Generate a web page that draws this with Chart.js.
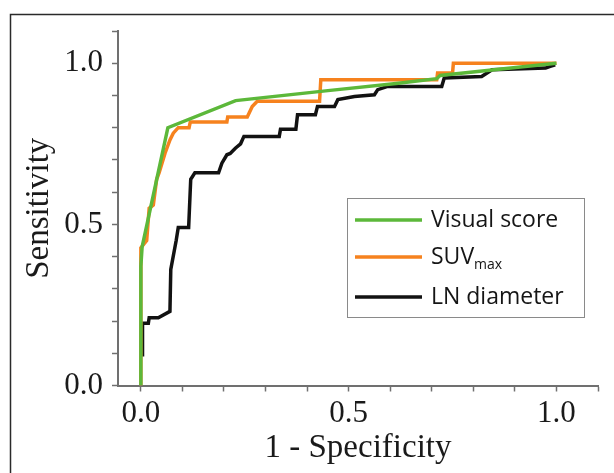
<!DOCTYPE html>
<html>
<head>
<meta charset="utf-8">
<script src="https://cdn.jsdelivr.net/npm/chart.js@4.4.1/dist/chart.umd.min.js"></script>
<style>
  html, body { margin: 0; padding: 0; background: #fff; }
  #wrap { width: 614px; height: 473px; }
</style>
</head>
<body>
<div id="wrap"><canvas id="roc" width="614" height="473"></canvas></div>
<script>
// ROC curves (x = 1 - specificity, y = sensitivity)
const visualFpr = [0, 0, 0.003, 0.065, 0.228, 0.45, 0.62, 0.712, 0.72, 0.85, 1.0];
const visualTpr = [0, 0.37, 0.43, 0.80, 0.884, 0.915, 0.938, 0.952, 0.962, 0.98, 1.0];

const suvFpr = [0, 0, 0.008, 0.014, 0.02, 0.03, 0.038, 0.044, 0.058, 0.07, 0.078, 0.09, 0.116, 0.119, 0.207, 0.209, 0.256, 0.268, 0.28, 0.43, 0.433, 0.712, 0.714, 0.75, 0.752, 1.0];
const suvTpr = [0, 0.427, 0.44, 0.45, 0.55, 0.56, 0.64, 0.66, 0.72, 0.762, 0.783, 0.80, 0.80, 0.818, 0.818, 0.833, 0.833, 0.866, 0.882, 0.882, 0.949, 0.949, 0.97, 0.97, 1.0, 1.0];

const lnFpr = [0.004, 0.004, 0.018, 0.02, 0.042, 0.07, 0.072, 0.085, 0.09, 0.115, 0.12, 0.13, 0.187, 0.195, 0.207, 0.215, 0.228, 0.24, 0.248, 0.333, 0.336, 0.373, 0.377, 0.42, 0.425, 0.466, 0.474, 0.514, 0.562, 0.57, 0.594, 0.724, 0.73, 0.82, 0.845, 0.974, 0.985, 0.997];
const lnTpr = [0.09, 0.193, 0.193, 0.21, 0.21, 0.23, 0.36, 0.45, 0.49, 0.49, 0.64, 0.66, 0.66, 0.69, 0.716, 0.72, 0.737, 0.75, 0.773, 0.773, 0.795, 0.795, 0.84, 0.84, 0.866, 0.866, 0.887, 0.897, 0.902, 0.918, 0.928, 0.928, 0.954, 0.959, 0.98, 0.985, 0.99, 0.995];

const axisTicks = [0, 0.1, 0.2, 0.3, 0.4, 0.5, 0.6, 0.7, 0.8, 0.9, 1.0, 1.1];
const labelledTicks = [0, 0.5, 1.0];

const seriesNames = ["Visual score", "SUV", "LN diameter"];
const seriesSubs = ["", "max", ""];
const seriesColors = ["rgb(92, 184, 58)", "rgb(246, 130, 30)", "rgb(18, 18, 18)"];

const zip = (xs, ys) => xs.map((x, i) => ({ x, y: ys[i] }));

const serif = "'Liberation Serif', 'Times New Roman', serif";

const tickCallback = v => {
  const r = Math.round(v * 10) / 10;
  return labelledTicks.includes(r) ? r.toFixed(1) : "";
};
const setTicks = scale => { scale.ticks = axisTicks.map(v => ({ value: v })); };

// frame round the figure and the boxed legend with a subscript
const decor = {
  id: "decor",
  afterDraw(chart) {
    const ctx = chart.ctx;
    ctx.save();
    ctx.strokeStyle = "#2a2a2a";
    ctx.lineWidth = 1.5;
    ctx.beginPath();
    ctx.moveTo(10.5, 480);
    ctx.lineTo(10.5, 14.5);
    ctx.lineTo(620, 14.5);
    ctx.stroke();

    // legend
    ctx.strokeStyle = "#8a8a8a";
    ctx.lineWidth = 1;
    ctx.strokeRect(347.5, 198.5, 237, 119);
    const rows = [220, 257, 297];
    chart.data.datasets.forEach((ds, i) => {
      const y = rows[i];
      ctx.strokeStyle = ds.borderColor;
      ctx.lineWidth = 3.5;
      ctx.beginPath();
      ctx.moveTo(355, y);
      ctx.lineTo(422, y);
      ctx.stroke();
      ctx.fillStyle = "#151515";
      ctx.textBaseline = "middle";
      ctx.font = "500 23px 'Open Sans', 'Noto Sans', sans-serif";
      ctx.fillText(ds.label, 431, y);
      if (ds.sub) {
        const w = ctx.measureText(ds.label).width;
        ctx.font = "500 14px 'Open Sans', 'Noto Sans', sans-serif";
        ctx.fillText(ds.sub, 431 + w, y + 8);
      }
    });
    ctx.restore();
  }
};

new Chart(document.getElementById("roc"), {
  type: "line",
  data: {
    datasets: [
      { label: seriesNames[0], sub: seriesSubs[0], data: zip(visualFpr, visualTpr), borderColor: seriesColors[0], borderWidth: 3.5 },
      { label: seriesNames[1], sub: seriesSubs[1], data: zip(suvFpr, suvTpr), borderColor: seriesColors[1], borderWidth: 3.5 },
      { label: seriesNames[2], sub: seriesSubs[2], data: zip(lnFpr, lnTpr), borderColor: seriesColors[2], borderWidth: 3.5 },
    ]
  },
  options: {
    responsive: false,
    animation: false,
    events: [],
    elements: { point: { radius: 0 }, line: { tension: 0, borderJoinStyle: "miter" } },
    layout: { padding: { left: 0, top: 31, right: 16, bottom: 0 } },
    plugins: { legend: { display: false }, tooltip: { enabled: false } },
    scales: {
      x: {
        type: "linear",
        min: -0.055,
        max: 1.1,
        afterBuildTicks: setTicks,
        afterFit(scale) {
          scale.height = 87.5;
          scale.paddingLeft = scale.paddingRight = 0;
        },
        border: { color: "#707070", width: 2 },
        grid: { drawOnChartArea: false, tickLength: 6, tickColor: "#707070", tickWidth: 1.5 },
        ticks: { callback: tickCallback, padding: 4, color: "#1a1a1a", maxRotation: 0, autoSkip: false, font: { family: serif, size: 31 } },
        title: { display: true, text: "1 - Specificity", color: "#1a1a1a", padding: { top: 0, bottom: 5 }, font: { family: serif, size: 33 } }
      },
      y: {
        type: "linear",
        min: 0,
        max: 1.1,
        afterBuildTicks: setTicks,
        afterFit(scale) {
          scale.width = 118;
          scale.paddingTop = scale.paddingBottom = 0;
        },
        border: { color: "#707070", width: 2 },
        grid: { drawOnChartArea: false, tickLength: 6, tickColor: "#707070", tickWidth: 1.5 },
        ticks: { callback: tickCallback, padding: 9, color: "#1a1a1a", autoSkip: false, font: { family: serif, size: 31 } },
        title: { display: true, text: "Sensitivity", color: "#1a1a1a", padding: { top: 20, bottom: 0 }, font: { family: serif, size: 33 } }
      }
    }
  },
  plugins: [decor]
});
</script>
</body>
</html>
